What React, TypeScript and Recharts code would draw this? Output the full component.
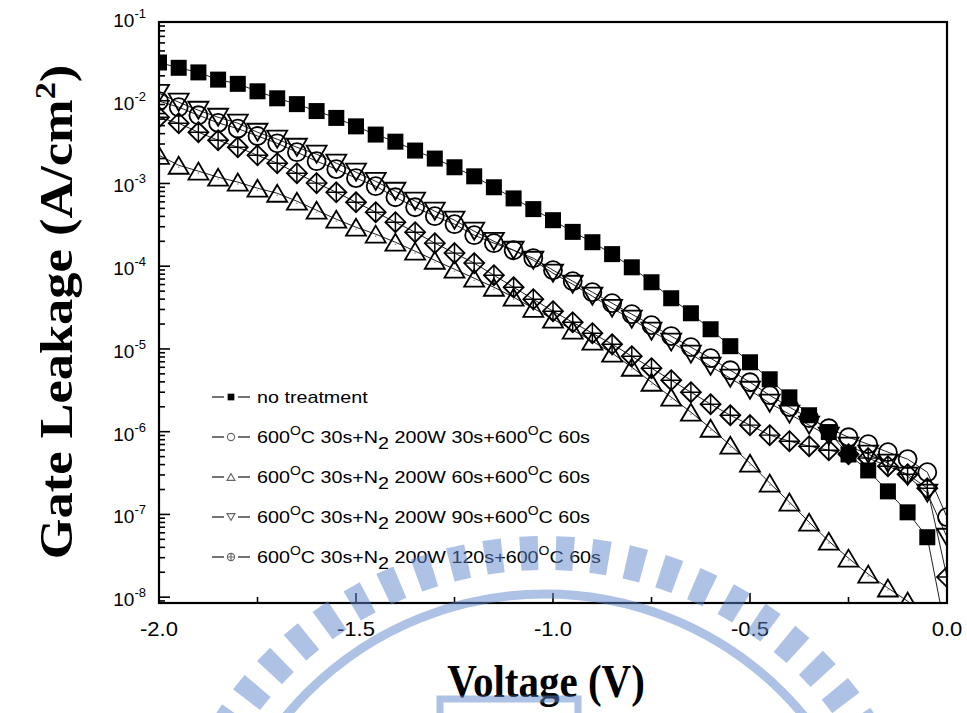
import React from 'react';
import { LineChart, Line, XAxis, YAxis } from 'recharts';

// gate bias sweep (V)
const voltage = [
  -2.0, -1.95, -1.9, -1.85, -1.8, -1.75, -1.7, -1.65, -1.6, -1.55,
  -1.5, -1.45, -1.4, -1.35, -1.3, -1.25, -1.2, -1.15, -1.1, -1.05,
  -1.0, -0.95, -0.9, -0.85, -0.8, -0.75, -0.7, -0.65, -0.6, -0.55,
  -0.5, -0.45, -0.4, -0.35, -0.3, -0.25, -0.2, -0.15, -0.1, -0.05, 0.0,
];

// leakage current density (A/cm^2) for each treatment
const noTreatment = [
  2.9e-2, 2.5e-2, 2.2e-2, 1.8e-2, 1.6e-2, 1.3e-2, 1.07e-2, 9.1e-3, 7.5e-3, 6.2e-3,
  4.9e-3, 3.9e-3, 3.2e-3, 2.5e-3, 2.0e-3, 1.57e-3, 1.22e-3, 9.0e-4, 6.6e-4, 4.9e-4,
  3.6e-4, 2.6e-4, 1.95e-4, 1.4e-4, 9.7e-5, 6.4e-5, 4.1e-5, 2.7e-5, 1.73e-5, 1.08e-5,
  6.9e-6, 4.3e-6, 2.6e-6, 1.58e-6, 9.9e-7, 5.3e-7, 3.4e-7, 1.9e-7, 1.06e-7, 5.3e-8, 3.2e-9,
];
const n2For30s = [
  9.9e-3, 8.36e-3, 6.68e-3, 5.4e-3, 4.6e-3, 3.75e-3, 3.06e-3, 2.39e-3, 1.86e-3, 1.49e-3,
  1.16e-3, 9.27e-4, 6.82e-4, 5.16e-4, 4.02e-4, 3.22e-4, 2.37e-4, 1.9e-4, 1.56e-4, 1.25e-4,
  8.95e-5, 6.59e-5, 4.85e-5, 3.57e-5, 2.63e-5, 1.94e-5, 1.43e-5, 1.05e-5, 7.73e-6, 5.53e-6,
  3.96e-6, 2.76e-6, 1.98e-6, 1.46e-6, 1.1e-6, 8.57e-7, 7.06e-7, 5.65e-7, 4.66e-7, 3.24e-7, 9.27e-8,
];
const n2For60s = [
  2.19e-3, 1.66e-3, 1.41e-3, 1.19e-3, 1.04e-3, 8.77e-4, 7.62e-4, 6.11e-4, 4.75e-4, 3.7e-4,
  2.96e-4, 2.44e-4, 1.95e-4, 1.52e-4, 1.18e-4, 9.2e-5, 7.16e-5, 5.57e-5, 4.22e-5, 3.1e-5,
  2.29e-5, 1.69e-5, 1.24e-5, 8.89e-6, 6.01e-6, 3.96e-6, 2.61e-6, 1.72e-6, 1.1e-6, 6.87e-7,
  4.16e-7, 2.39e-7, 1.41e-7, 8.05e-8, 4.75e-8, 2.96e-8, 1.9e-8, 1.29e-8, 8.95e-9, 5.9e-9, 2.0e-9,
];
const n2For90s = [
  1.23e-2, 9.6e-3, 7.67e-3, 6.32e-3, 5.35e-3, 4.16e-3, 3.43e-3, 2.74e-3, 2.26e-3, 1.76e-3,
  1.37e-3, 1.06e-3, 8.05e-4, 6.11e-4, 4.62e-4, 3.6e-4, 2.65e-4, 2.0e-4, 1.56e-4, 1.18e-4,
  8.23e-5, 6.05e-5, 4.34e-5, 3.1e-5, 2.29e-5, 1.64e-5, 1.21e-5, 8.65e-6, 6.18e-6, 4.43e-6,
  3.17e-6, 2.21e-6, 1.63e-6, 1.2e-6, 8.83e-7, 6.68e-7, 5.35e-7, 4.16e-7, 2.9e-7, 1.81e-7, 5.3e-8,
];
const n2For120s = [
  6.32e-3, 5.35e-3, 4.16e-3, 3.33e-3, 2.74e-3, 2.19e-3, 1.76e-3, 1.33e-3, 1.01e-3, 7.83e-4,
  5.93e-4, 4.5e-4, 3.4e-4, 2.58e-4, 1.9e-4, 1.44e-4, 1.09e-4, 7.78e-5, 5.57e-5, 3.99e-5,
  2.86e-5, 2.1e-5, 1.55e-5, 1.14e-5, 8.17e-6, 5.85e-6, 4.19e-6, 3.0e-6, 2.15e-6, 1.58e-6,
  1.2e-6, 9.08e-7, 7.67e-7, 6.68e-7, 5.97e-7, 5.35e-7, 4.79e-7, 3.83e-7, 3.06e-7, 2.07e-7, 1.75e-8,
];

const plasmaTimes = ['30s', '60s', '90s', '120s'];
const xTicks = [-2.0, -1.75, -1.5, -1.25, -1.0, -0.75, -0.5, -0.25, 0.0];
const yDecades = [-9, -8, -7, -6, -5, -4, -3, -2, -1];
const Y_MIN = 8.5e-9;
const Y_MAX = 0.1;

const yTicks: number[] = [];
yDecades.forEach((e) => {
  for (let m = 1; m <= 9; m++) {
    const v = m * Math.pow(10, e);
    if (v >= Y_MIN && v <= Y_MAX * 1.0001) yTicks.push(v);
  }
});

const rows = voltage.map((v, i) => ({
  v,
  none: noTreatment[i],
  t30: n2For30s[i],
  t60: n2For60s[i],
  t90: n2For90s[i],
  t120: n2For120s[i],
}));

const W = 967;
const H = 713;
const PLOT = { left: 159, right: 947, top: 18, bottom: 603 };
const FRAME_TOP = 22;
const SANS = "'Liberation Sans', Arial, sans-serif";
const SERIF = "'Liberation Serif', 'Times New Roman', serif";

type Kind = 'square' | 'circle' | 'up' | 'down' | 'diamond' | 'ring';

const Mark = ({ kind, cx, cy, s = 1, color = '#000', sw = 1.8 }: any) => {
  if (cx == null || cy == null || isNaN(cx) || isNaN(cy)) return null;
  const common = { fill: 'none', stroke: color, strokeWidth: sw };
  if (kind === 'square') {
    const a = 8 * s;
    return <rect x={cx - a} y={cy - a} width={2 * a} height={2 * a} fill={color} />;
  }
  if (kind === 'circle') return <circle cx={cx} cy={cy} r={9 * s} {...common} />;
  if (kind === 'up' || kind === 'down') {
    const w = 10 * s;
    const h = 8.5 * s;
    const d = kind === 'up' ? 1 : -1;
    return (
      <g>
        <polygon
          points={`${cx},${cy - d * h} ${cx - w},${cy + d * h} ${cx + w},${cy + d * h}`}
          {...common}
          strokeLinejoin="miter"
        />
        {kind === 'up' && s === 1 && <circle cx={cx} cy={cy + 2} r={0.8} fill="#888" />}
      </g>
    );
  }
  if (kind === 'diamond') {
    const a = 10 * s;
    return (
      <g {...common}>
        <polygon points={`${cx},${cy - a} ${cx + a},${cy} ${cx},${cy + a} ${cx - a},${cy}`} />
        <path d={`M${cx - a} ${cy}H${cx + a}M${cx} ${cy - a}V${cy + a}`} strokeWidth={sw * 0.8} />
      </g>
    );
  }
  const r = 9 * s;
  return (
    <g {...common}>
      <circle cx={cx} cy={cy} r={r} />
      <path d={`M${cx - r} ${cy}H${cx + r}M${cx} ${cy - r}V${cy + r}`} />
    </g>
  );
};

// markers are cut at the frame, like the data lines
const dotFor = (kind: Kind) => (p: any) => (
  <g key={`${kind}-${p.index}`} clipPath="url(#plot-frame)">
    <Mark kind={kind} cx={p.cx} cy={p.cy} />
  </g>
);

const YTick = (props: any) => {
  const { y, payload } = props;
  const lg = Math.log10(payload.value);
  const major = Math.abs(lg - Math.round(lg)) < 1e-6;
  return (
    <g>
      {y >= FRAME_TOP - 1 && (
        <line x1={PLOT.left} x2={PLOT.left + (major ? 11 : 6)} y1={y} y2={y} stroke="#000" strokeWidth={1.6} />
      )}
      {major && (
        <text x={146} y={y + 9} textAnchor="end" fontFamily={SANS} fontSize={19} fill="#000">
          10
          <tspan dy={-9} fontSize={13}>
            {String(Math.round(lg))}
          </tspan>
        </text>
      )}
    </g>
  );
};

const XTick = (props: any) => {
  const { x, payload } = props;
  const v = payload.value;
  const major = Math.abs(v * 2 - Math.round(v * 2)) < 1e-6;
  return (
    <g>
      <line x1={x} x2={x} y1={PLOT.bottom} y2={PLOT.bottom - (major ? 10 : 6)} stroke="#000" strokeWidth={1.6} />
      {major && (
        <g transform={`translate(${x},636) scale(1.1,1)`}>
          <text x={0} y={0} textAnchor="middle" fontFamily={SANS} fontSize={20} fill="#000">
            {v.toFixed(1)}
          </text>
        </g>
      )}
    </g>
  );
};

const RecipeLabel = ({ time }: { time: string }) => (
  <text x={0} y={0} fontFamily={SANS} fontSize={17} fill="#000">
    600
    <tspan dy={-8} fontSize={12}>O</tspan>
    <tspan dy={8}>{'C 30s+N'}</tspan>
    <tspan dy={6}>2</tspan>
    <tspan dy={-6}>{' 200W ' + time + '+600'}</tspan>
    <tspan dy={-8} fontSize={12}>O</tspan>
    <tspan dy={8}>{'C 60s'}</tspan>
  </text>
);

const legendKinds: Kind[] = ['circle', 'up', 'down', 'ring'];

const Legend = () => (
  <g>
    {['square' as Kind, ...legendKinds].map((kind, i) => {
      const y = 397 + i * 40;
      return (
        <g key={kind}>
          <line x1={212} x2={250} y1={y} y2={y} stroke="#444" strokeWidth={1.4} />
          <rect x={224} y={y - 5} width={14} height={10} fill="#fff" />
          <Mark kind={kind} cx={231} cy={y} s={kind === 'square' ? 0.42 : 0.4} color={kind === 'square' ? '#000' : '#666'} sw={1.1} />
          <g transform={`translate(257,${y + 6}) scale(1.16,1)`}>
            {i === 0 ? (
              <text x={0} y={0} fontFamily={SANS} fontSize={17} fill="#000">no treatment</text>
            ) : (
              <RecipeLabel time={plasmaTimes[i - 1]} />
            )}
          </g>
        </g>
      );
    })}
  </g>
);

// faint emblem printed over the figure
const Emblem = () => {
  const cx = 545;
  const cy = 930;
  const r1 = 360;
  const r2 = 394;
  const half = 1.35;
  const bars: React.ReactNode[] = [];
  for (let k = 0; k < 30; k++) {
    const a = -168 + k * 5.4;
    const pts = [
      [r1, a - half],
      [r2, a - half],
      [r2, a + half],
      [r1, a + half],
    ]
      .map(([r, d]) => {
        const t = (d * Math.PI) / 180;
        return `${(cx + r * Math.cos(t)).toFixed(1)},${(cy + r * Math.sin(t)).toFixed(1)}`;
      })
      .join(' ');
    bars.push(<polygon key={k} points={pts} />);
  }
  return (
    <g fill="#5f86cc" opacity={0.5}>
      {bars}
      <circle cx={cx} cy={cy} r={336} fill="none" stroke="#5f86cc" strokeWidth={9} />
      <rect x={440} y={699} width={138} height={22} fill="none" stroke="#5f86cc" strokeWidth={7} />
    </g>
  );
};

export default function App() {
  return (
    <div style={{ position: 'absolute', left: 0, top: 0, width: W, height: H, background: '#fff' }}>
      <svg width={0} height={0} style={{ position: 'absolute' }}>
        <defs>
          <clipPath id="plot-frame">
            <rect x={PLOT.left} y={FRAME_TOP} width={PLOT.right - PLOT.left} height={PLOT.bottom - FRAME_TOP} />
          </clipPath>
        </defs>
      </svg>
      <LineChart width={W} height={H} data={rows} margin={{ top: PLOT.top, right: W - PLOT.right, bottom: 0, left: 0 }}>
        <XAxis
          dataKey="v"
          type="number"
          domain={[-2, 0]}
          ticks={xTicks}
          interval={0}
          height={H - PLOT.bottom}
          axisLine={false}
          tickLine={false}
          tick={XTick}
        />
        <YAxis
          type="number"
          scale="log"
          domain={[Y_MIN, Y_MAX]}
          allowDataOverflow
          ticks={yTicks}
          interval={0}
          width={PLOT.left}
          axisLine={false}
          tickLine={false}
          tick={YTick}
        />
        <Line dataKey="none" type="linear" stroke="#222" strokeWidth={1} dot={dotFor('square')} activeDot={false} isAnimationActive={false} />
        <Line dataKey="t60" type="linear" stroke="#222" strokeWidth={1} dot={dotFor('up')} activeDot={false} isAnimationActive={false} />
        <Line dataKey="t120" type="linear" stroke="#222" strokeWidth={1} dot={dotFor('diamond')} activeDot={false} isAnimationActive={false} />
        <Line dataKey="t90" type="linear" stroke="#222" strokeWidth={1} dot={dotFor('down')} activeDot={false} isAnimationActive={false} />
        <Line dataKey="t30" type="linear" stroke="#222" strokeWidth={1} dot={dotFor('circle')} activeDot={false} isAnimationActive={false} />
      </LineChart>
      <svg width={W} height={H} style={{ position: 'absolute', left: 0, top: 0, pointerEvents: 'none' }}>
        <rect x={PLOT.left} y={FRAME_TOP} width={PLOT.right - PLOT.left} height={PLOT.bottom - FRAME_TOP} fill="none" stroke="#000" strokeWidth={2.2} />
        <Legend />
        <text
          transform="translate(72,312) rotate(-90) scale(1.14,1)"
          textAnchor="middle"
          fontFamily={SERIF}
          fontWeight="bold"
          fontSize={46}
          fill="#000"
        >
          {'Gate Leakage (A/cm'}
          <tspan dy={-17} fontSize={30}>2</tspan>
          <tspan dy={17}>)</tspan>
        </text>
        <text transform="translate(546,697) scale(1,1.15)" textAnchor="middle" fontFamily={SERIF} fontWeight="bold" fontSize={41} fill="#000">
          Voltage (V)
        </text>
        <Emblem />
      </svg>
    </div>
  );
}
